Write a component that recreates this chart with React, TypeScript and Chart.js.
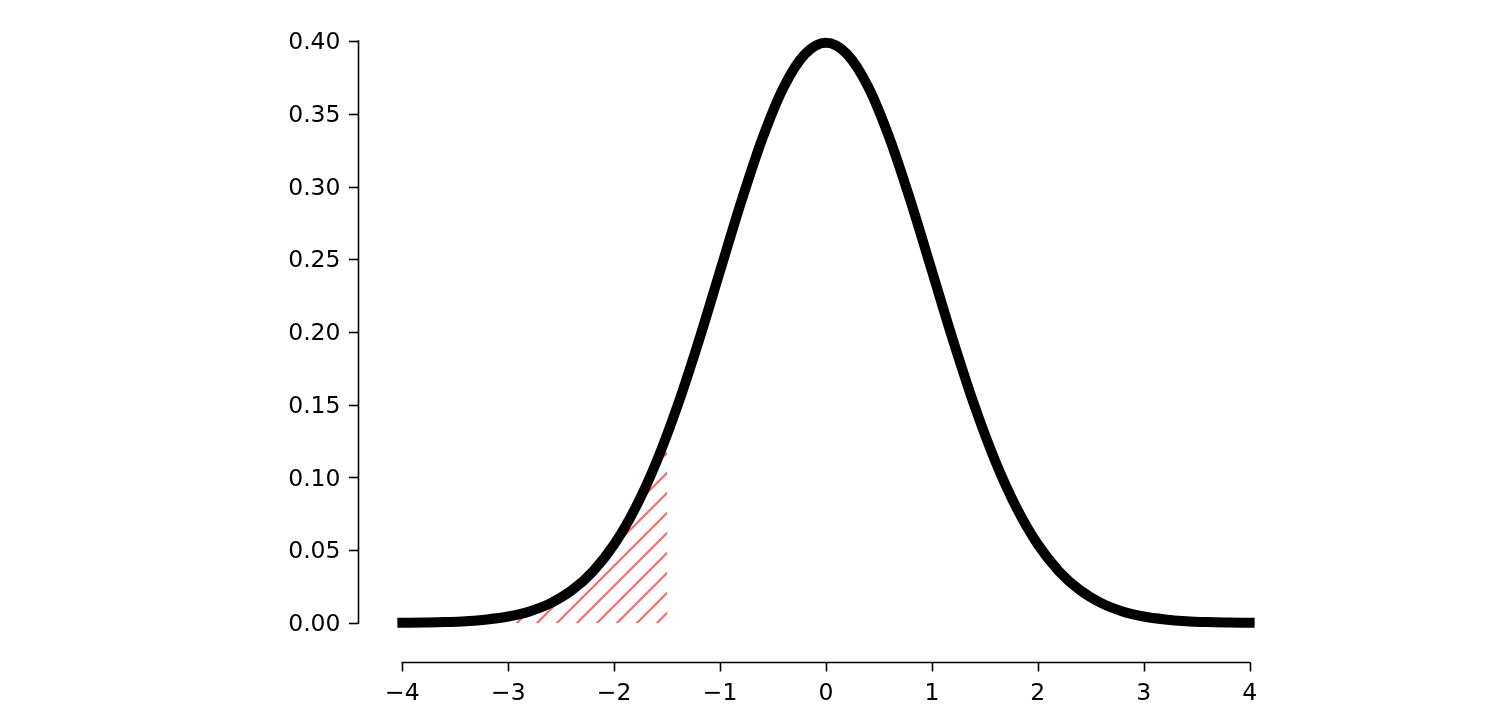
import React, { useEffect, useRef } from "react";
import { Chart, registerables } from "chart.js";

Chart.register(...registerables);

// Curve samples (x, density)
const xValues = [
  -4, -3.8, -3.6, -3.4, -3.2, -3, -2.8, -2.6, -2.4, -2.2, -2, -1.8, -1.6, -1.4, -1.2, -1, -0.8,
  -0.6, -0.4, -0.2, 0, 0.2, 0.4, 0.6, 0.8, 1, 1.2, 1.4, 1.6, 1.8, 2, 2.2, 2.4, 2.6, 2.8, 3, 3.2,
  3.4, 3.6, 3.8, 4,
];
const yValues = [
  0.0001, 0.0003, 0.0006, 0.0012, 0.0024, 0.0044, 0.0079, 0.0136, 0.0224, 0.0355, 0.054, 0.079,
  0.1109, 0.1497, 0.1942, 0.242, 0.2897, 0.3332, 0.3683, 0.391, 0.3989, 0.391, 0.3683, 0.3332,
  0.2897, 0.242, 0.1942, 0.1497, 0.1109, 0.079, 0.054, 0.0355, 0.0224, 0.0136, 0.0079, 0.0044,
  0.0024, 0.0012, 0.0006, 0.0003, 0.0001,
];
// Hatched tail region (left of the cut-off)
const shadeX = [-4, -3.8, -3.6, -3.4, -3.2, -3, -2.8, -2.6, -2.4, -2.2, -2, -1.8, -1.6, -1.5];
const shadeY = [
  0.0001, 0.0003, 0.0006, 0.0012, 0.0024, 0.0044, 0.0079, 0.0136, 0.0224, 0.0355, 0.054, 0.079,
  0.1109, 0.1295,
];

const xTicks = [-4, -3, -2, -1, 0, 1, 2, 3, 4];
const yTicks = [0, 0.05, 0.1, 0.15, 0.2, 0.25, 0.3, 0.35, 0.4];

const FONT = "'DejaVu Sans', sans-serif";

function makeHatch(): CanvasPattern | string {
  const size = 20;
  const c = document.createElement("canvas");
  c.width = size;
  c.height = size;
  const g = c.getContext("2d");
  if (!g) return "rgba(255,90,90,0.9)";
  g.strokeStyle = "#ff6565";
  g.lineWidth = 2;
  g.lineCap = "square";
  const seg = (x1: number, y1: number, x2: number, y2: number) => {
    g.beginPath();
    g.moveTo(x1, y1);
    g.lineTo(x2, y2);
    g.stroke();
  };
  seg(-2, size + 2, size + 2, -2);
  seg(-size / 2 - 2, size / 2 + 2, size / 2 + 2, -size / 2 - 2);
  seg(size / 2 - 2, size * 1.5 + 2, size * 1.5 + 2, size / 2 - 2);
  const p = g.createPattern(c, "repeat");
  return p || "#ff6565";
}

const spinesPlugin = {
  id: "spines",
  afterDraw(chart: any) {
    const { ctx, chartArea, scales } = chart;
    const xs = scales.x;
    const ys = scales.y;
    ctx.save();
    ctx.strokeStyle = "#000";
    ctx.lineWidth = 1.6;
    ctx.lineCap = "butt";
    const lx = chartArea.left - 1.5;
    const y0 = ys.getPixelForValue(yTicks[0]);
    const y1 = ys.getPixelForValue(yTicks[yTicks.length - 1]);
    ctx.beginPath();
    ctx.moveTo(lx, y0 + 0.8);
    ctx.lineTo(lx, y1 - 0.8);
    ctx.stroke();
    for (const v of yTicks) {
      const py = Math.round(ys.getPixelForValue(v)) + 0.5;
      ctx.beginPath();
      ctx.moveTo(lx, py);
      ctx.lineTo(lx - 9.5, py);
      ctx.stroke();
    }
    const by = chartArea.bottom + 10.5;
    const x0 = xs.getPixelForValue(xTicks[0]);
    const x1 = xs.getPixelForValue(xTicks[xTicks.length - 1]);
    ctx.beginPath();
    ctx.moveTo(x0 - 0.8, by);
    ctx.lineTo(x1 + 0.8, by);
    ctx.stroke();
    for (const v of xTicks) {
      const px = Math.round(xs.getPixelForValue(v)) + 0.5;
      ctx.beginPath();
      ctx.moveTo(px, by);
      ctx.lineTo(px, by + 9);
      ctx.stroke();
    }
    ctx.restore();
  },
};

export default function App() {
  const ref = useRef<HTMLCanvasElement | null>(null);

  useEffect(() => {
    document.body.style.margin = "0";
    const canvas = ref.current;
    if (!canvas) return;

    const curve = xValues.map((x, i) => ({ x, y: yValues[i] }));
    const shaded = shadeX.map((x, i) => ({ x, y: shadeY[i] }));

    const chart = new Chart(canvas, {
      type: "line",
      data: {
        datasets: [
          {
            data: curve,
            borderColor: "#000",
            borderWidth: 10,
            borderCapStyle: "square",
            borderJoinStyle: "round",
            pointRadius: 0,
            cubicInterpolationMode: "monotone",
            fill: false,
            order: 1,
          },
          {
            data: shaded,
            borderWidth: 0,
            borderColor: "rgba(0,0,0,0)",
            backgroundColor: makeHatch() as any,
            pointRadius: 0,
            cubicInterpolationMode: "monotone",
            fill: "origin",
            order: 2,
          },
        ],
      },
      options: {
        responsive: false,
        animation: false,
        events: [],
        layout: { padding: { left: 0, top: 12, right: 206, bottom: 0 } },
        plugins: {
          legend: { display: false },
          tooltip: { enabled: false },
        },
        scales: {
          x: {
            type: "linear",
            min: -4.4,
            max: 4.4,
            grid: { display: false, drawTicks: false },
            border: { display: false },
            afterBuildTicks: (s: any) => {
              s.ticks = xTicks.map((v) => ({ value: v }));
            },
            afterFit: (s: any) => {
              s.height = 68;
              s.paddingLeft = 0;
              s.paddingRight = 0;
              s.paddingTop = 0;
              s.paddingBottom = 0;
            },
            ticks: {
              autoSkip: false,
              maxRotation: 0,
              color: "#000",
              padding: 30.5,
              font: { family: FONT, size: 23.5, lineHeight: 1 },
              callback: (v: any) => {
                const n = Number(v);
                return n < 0 ? "\u2212" + Math.abs(n) : String(n);
              },
            },
          },
          y: {
            type: "linear",
            min: -0.02,
            max: 0.42,
            grid: { display: false, drawTicks: false },
            border: { display: false },
            afterBuildTicks: (s: any) => {
              s.ticks = yTicks.map((v) => ({ value: v }));
            },
            afterFit: (s: any) => {
              s.width = 360;
              s.paddingLeft = 0;
              s.paddingRight = 0;
              s.paddingTop = 0;
              s.paddingBottom = 0;
            },
            ticks: {
              autoSkip: false,
              color: "#000",
              padding: 19.5,
              labelOffset: 2,
              font: { family: FONT, size: 23.5, lineHeight: 1 },
              callback: (v: any) => Number(v).toFixed(2),
            },
          },
        },
      },
      plugins: [spinesPlugin],
    });

    return () => chart.destroy();
  }, []);

  return (
    <div style={{ width: 1498, height: 720 }}>
      <canvas ref={ref} width={1498} height={720} style={{ display: "block", width: 1498, height: 720 }} />
    </div>
  );
}
